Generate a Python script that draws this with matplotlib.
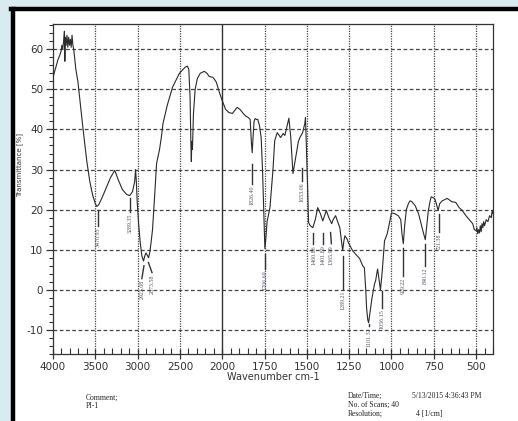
import numpy as np
import matplotlib
matplotlib.use("Agg")
import matplotlib.pyplot as plt
from matplotlib.ticker import FixedLocator, NullFormatter

plt.rcParams["axes.unicode_minus"] = False

# spectrum: wavenumber (cm-1) and transmittance (%)
wn = [4000, 3980, 3960, 3940, 3920, 3905, 3895, 3885, 3875, 3865, 3860, 3855,
      3845, 3835, 3825, 3815, 3805, 3795, 3785, 3775, 3765, 3755, 3745, 3730,
      3706, 3680, 3647, 3600, 3565, 3530, 3500, 3482, 3460, 3420, 3370, 3320,
      3270, 3230, 3180, 3130, 3094, 3060, 3035, 3024, 3015, 3005, 2990, 2970,
      2950, 2930, 2915, 2900, 2885, 2870, 2855, 2840, 2824, 2800, 2776, 2741,
      2720, 2700, 2650, 2588, 2506, 2440, 2412, 2395, 2380, 2370, 2365, 2360,
      2352, 2340, 2320, 2294, 2260, 2212, 2180, 2153, 2110, 2070, 2030, 2000,
      1980, 1960, 1940, 1912, 1895, 1876, 1860, 1847, 1835, 1828, 1823, 1818,
      1812, 1806, 1798, 1790, 1780, 1770, 1762, 1755, 1748, 1742, 1735, 1718,
      1700, 1690, 1675, 1655, 1640, 1630, 1606, 1595, 1582, 1570, 1550, 1541,
      1525, 1512, 1508, 1503, 1495, 1490, 1480, 1465, 1450, 1436, 1420, 1406,
      1395, 1385, 1370, 1353, 1345, 1330, 1318, 1305, 1295, 1288, 1282, 1275,
      1260, 1255, 1230, 1210, 1188, 1170, 1160, 1152, 1147, 1140, 1135, 1128,
      1115, 1100, 1094, 1082, 1075, 1065, 1058, 1053, 1041, 1025, 1010, 1000,
      980, 960, 945, 938, 930, 922, 912, 900, 890, 880, 860, 840, 825, 810,
      800, 790, 782, 770, 765, 755, 745, 735, 724, 715, 700, 685, 671, 660,
      645, 620, 600, 582, 560, 540, 520, 510, 500, 495, 490, 485, 480, 475,
      470, 465, 460, 455, 450, 440, 430, 420, 410, 405, 400]
trans = [53, 54.5, 56, 57.5, 58.5, 59.5, 61, 60, 62, 64.5, 57, 63,
         61, 63.5, 60.5, 63, 61, 62.5, 60.5, 63.5, 61, 60, 58, 55,
         52, 47, 40.5, 32, 27, 23.5, 21.5, 20.8, 21.2, 23, 25.5, 28,
         29.8, 27.5, 25, 23.8, 23.5, 24.5, 27, 30, 27, 22, 17, 12,
         8.5, 7.2, 8.5, 9.2, 8.6, 8, 9.5, 12, 15, 23, 31.5, 35,
         38, 41.5, 46, 50.5, 54, 55.5, 55.8, 55, 48, 36, 32, 37,
         35, 44, 50, 52.7, 54, 54.5, 54, 53.2, 53, 51.8, 49, 47.2,
         45, 44.2, 44, 45.5, 45, 44, 43.3, 43, 42.5, 37, 34.2, 38,
         42, 42.7, 42.5, 42.5, 41, 38, 30, 20, 10.3, 13, 17, 20.5,
         30, 37.2, 39.2, 38, 39, 38.5, 42.8, 38, 29, 32, 37, 38,
         39.2, 41.5, 43, 36, 25, 16.8, 16, 15.5, 17.5, 20.5, 19, 17.2,
         18.5, 19.8, 18, 16.5, 17.5, 18.5, 17, 15.5, 12, 9.8, 12, 13.5,
         12.5, 11.8, 9.8, 8.8, 7.8, 6, 5.5, 0, -4.5, -7.5, -8.2, -6,
         -2, 1.5, 2.2, 5.2, 3, 0, 3, 5.5, 12.2, 14, 17, 19.2,
         19, 18.5, 17.5, 14, 11.5, 16, 20, 21.5, 22.2, 22, 21, 19, 16.5, 14,
         12.5, 16.5, 19.8, 22.5, 23.2, 23, 22.8, 21.5, 19.8, 21.5, 22.2, 22.5, 22.8, 22.5,
         22, 21.8, 20.5, 19.8, 18.5, 17.5, 16.5, 15, 14.8, 15.5, 14, 15, 14.2, 16,
         14.5, 16.5, 15.5, 17, 16, 17.5, 17, 18.5, 18, 19.8, 19]

# picked peaks: where the marker sits and what it says
peak_pos = [3471, 3089, 2925, 2872, 1824, 1747, 1530, 1461, 1402, 1360, 1289,
            1133, 1056, 929, 800, 721]
peak_text = ["3470.93", "3289.35", "2923.08", "2873.58", "1826.40", "1706.69",
             "1653.06", "1460.86", "1401.89", "1365.99", "1289.21", "1101.32",
             "1056.15", "929.22", "840.12", "721.38"]

x_ticks = [4000, 3500, 3000, 2500, 2000, 1750, 1500, 1250, 1000, 750, 500]
y_ticks = [-10, 0, 10, 20, 30, 40, 50, 60]

# leader lines: (top, bottom) in % and x where the text sits
lead = [(19.8, 16.0, 3471), (22.8, 19.3, 3089), (6.0, 2.8, 2950), (6.8, 4.3, 2830),
        (31.5, 26.5, 1824), (9.0, 5.2, 1747), (30.5, 27.2, 1530),
        (14.3, 11.5, 1461), (14.3, 11.5, 1402), (14.3, 11.5, 1355),
        (8.5, 0.3, 1289), (-8.5, -9.0, 1133), (-0.2, -4.5, 1056),
        (10.5, 3.5, 929), (11.5, 6.0, 800), (18.8, 14.5, 721)]


def fwd(x):
    x = np.asarray(x, dtype=float)
    return np.where(x > 2000, 2000 + (x - 2000) / 2.0, x)


def inv(u):
    u = np.asarray(u, dtype=float)
    return np.where(u > 2000, 2000 + (u - 2000) * 2.0, u)


fig = plt.figure(figsize=(5.18, 4.21), dpi=100, facecolor="#d8ebf1")
W, H = 518.0, 421.0

# white sheet with a black border on top and left
fig.add_artist(plt.Rectangle((13 / W, 0), 1, 1 - 9 / H, transform=fig.transFigure,
                             facecolor="white", edgecolor="none", zorder=-5))
fig.add_artist(plt.Line2D([11 / W, 1], [1 - 9 / H, 1 - 9 / H], transform=fig.transFigure,
                          color="black", lw=3.2, zorder=-4))
fig.add_artist(plt.Line2D([13 / W, 13 / W], [0, 1 - 9 / H], transform=fig.transFigure,
                          color="black", lw=3.2, zorder=-4))

ax = fig.add_axes([53 / W, 1 - 354 / H, 440 / W, 330 / H])
ax.set_zorder(2)
ax.set_facecolor("white")
ax.set_xscale("function", functions=(fwd, inv))
ax.set_xlim(4000, 400)
ax.set_ylim(-16, 66.3)

ax.plot(wn, trans, color="#2a2a2a", lw=0.8, zorder=3)

for w, t, (top, bot, tx) in zip(peak_pos, peak_text, lead):
    ax.plot([w, tx], [top, bot], color="#333333", lw=1.0, zorder=3)
    ax.text(tx, bot - 0.4, t, rotation=90, ha="center", va="top", fontsize=4.3,
            family="Liberation Serif", color="#555566", zorder=4)

# grid
for y in y_ticks:
    ax.axhline(y, color="#444444", lw=0.9, ls=(0, (3, 2)), zorder=1)
for x in x_ticks[1:]:
    if x == 2000:
        ax.axvline(x, color="#333333", lw=1.0, zorder=1)
    else:
        ax.axvline(x, color="#444444", lw=0.9, ls=(0, (1, 1)), zorder=1)

ax.xaxis.set_major_locator(FixedLocator(x_ticks))
ax.set_xticklabels([str(x) for x in x_ticks])
minor_x = list(range(4000, 2000, -100)) + list(range(2000, 399, -50))
ax.xaxis.set_minor_locator(FixedLocator(minor_x))
ax.xaxis.set_minor_formatter(NullFormatter())
ax.yaxis.set_major_locator(FixedLocator(y_ticks))
ax.yaxis.set_minor_locator(FixedLocator(list(range(-16, 67, 2))))

ax.tick_params(axis="x", which="major", direction="inout", length=7, width=0.9,
               labelsize=7.5, colors="#333333", pad=2)
ax.tick_params(axis="x", which="minor", direction="in", length=4, width=0.8, colors="#333333")
ax.tick_params(axis="y", which="major", direction="out", length=5, width=0.9,
               labelsize=7.5, colors="#333333", pad=2)
ax.tick_params(axis="y", which="minor", direction="out", length=3, width=0.8, colors="#333333")
for s in ax.spines.values():
    s.set_color("#333333")
    s.set_linewidth(0.9)

ax.set_xlabel("Wavenumber cm-1", fontsize=7, color="#333333", labelpad=0)
fig.text(20 / W, 1 - 165 / H, "Transmittance [%]", rotation=90, ha="center", va="center",
         fontsize=5, color="#333333")

serif = dict(family="Liberation Serif", fontsize=5.5, color="#222222", va="center")
fig.text(86 / W, 1 - 398 / H, "Comment;", **serif)
fig.text(86 / W, 1 - 406 / H, "PI-1", **serif)
fig.text(348 / W, 1 - 396 / H, "Date/Time;", **serif)
fig.text(412 / W, 1 - 396 / H, "5/13/2015 4:36:43 PM", **serif)
fig.text(348 / W, 1 - 405 / H, "No. of Scans; 40", **serif)
fig.text(348 / W, 1 - 414 / H, "Resolution;", **serif)
fig.text(416 / W, 1 - 414 / H, "4 [1/cm]", **serif)

fig.savefig("out.png", dpi=100, facecolor=fig.get_facecolor())
